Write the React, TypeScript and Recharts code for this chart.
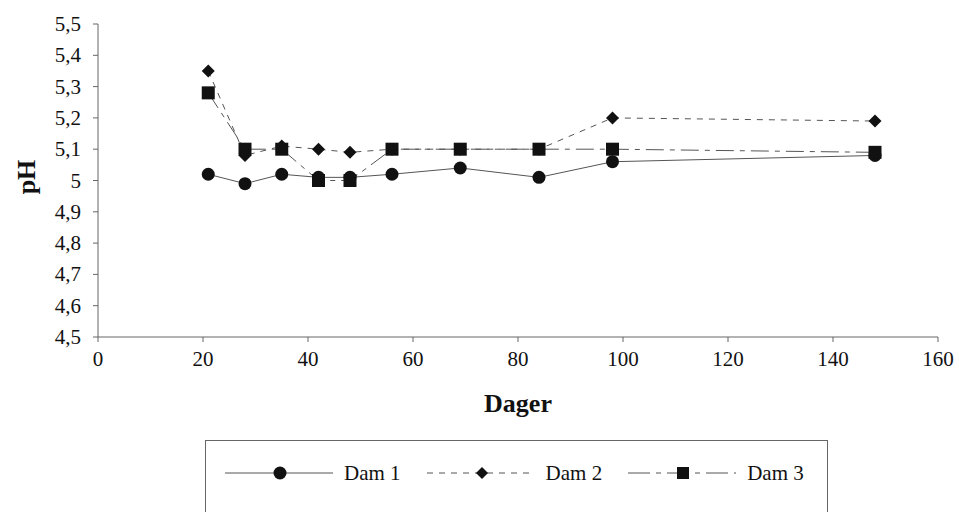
import { LineChart, Line, XAxis, YAxis, Legend, Label } from "recharts";

const days = [21, 28, 35, 42, 48, 56, 69, 84, 98, 148];
const dam1 = [5.02, 4.99, 5.02, 5.01, 5.01, 5.02, 5.04, 5.01, 5.06, 5.08];
const dam2 = [5.35, 5.08, 5.11, 5.1, 5.09, 5.1, 5.1, 5.1, 5.2, 5.19];
const dam3 = [5.28, 5.1, 5.1, 5.0, 5.0, 5.1, 5.1, 5.1, 5.1, 5.09];

const xTicks = [0, 20, 40, 60, 80, 100, 120, 140, 160];
const yTicks = [4.5, 4.6, 4.7, 4.8, 4.9, 5.0, 5.1, 5.2, 5.3, 5.4, 5.5];

const data = days.map((d, i) => ({
  day: d,
  dam1: dam1[i],
  dam2: dam2[i],
  dam3: dam3[i],
}));

const FONT = "'Liberation Serif', 'Times New Roman', serif";
const LINE = "#555";
const INK = "#111";

const fmtY = (v: number) => String(Number(v.toFixed(1))).replace(".", ",");

const XTick = (p: any) => (
  <text
    x={p.x}
    y={p.y + 22}
    textAnchor="middle"
    fontFamily={FONT}
    fontSize={21}
    fill={INK}
  >
    {p.payload.value}
  </text>
);

const YTick = (p: any) => (
  <text
    x={p.x - 10}
    y={p.y}
    textAnchor="end"
    dominantBaseline="central"
    fontFamily={FONT}
    fontSize={21}
    fill={INK}
  >
    {fmtY(p.payload.value)}
  </text>
);

const Circle = (p: any) => (
  <circle key={p.key} cx={p.cx} cy={p.cy} r={6.5} fill={INK} />
);
const Diamond = (p: any) => (
  <path
    key={p.key}
    d={`M${p.cx},${p.cy - 6.5}L${p.cx + 6.5},${p.cy}L${p.cx},${p.cy + 6.5}L${p.cx - 6.5},${p.cy}Z`}
    fill={INK}
  />
);
const Square = (p: any) => (
  <rect key={p.key} x={p.cx - 6.5} y={p.cy - 6.5} width={13} height={13} fill={INK} />
);

const legendItems = [
  { name: "Dam 1", dash: undefined, marker: "circle" },
  { name: "Dam 2", dash: "6 6", marker: "diamond" },
  { name: "Dam 3", dash: "22 6 5 6", marker: "square" },
];

function LegendBox() {
  return (
    <div
      style={{
        border: "1px solid #666",
        width: 623,
        height: 80,
        boxSizing: "border-box",
        display: "flex",
        alignItems: "flex-start",
        paddingTop: 20,
        paddingLeft: 19,
        fontFamily: FONT,
        fontSize: 21,
        lineHeight: "24px",
        color: INK,
      }}
    >
      {legendItems.map((it) => (
        <div
          key={it.name}
          style={{ display: "flex", alignItems: "center", marginRight: 26, height: 24 }}
        >
          <svg width={108} height={20} style={{ display: "block" }}>
            <line x1={0} x2={108} y1={10} y2={10} stroke={LINE} strokeDasharray={it.dash} />
            {it.marker === "circle" && <circle cx={55} cy={10} r={6.5} fill={INK} />}
            {it.marker === "diamond" && <path d="M55,4L61,10L55,16L49,10Z" fill={INK} />}
            {it.marker === "square" && <rect x={49} y={4} width={12} height={12} fill={INK} />}
          </svg>
          <span style={{ marginLeft: 11, whiteSpace: "nowrap" }}>{it.name}</span>
        </div>
      ))}
    </div>
  );
}

export default function App() {
  return (
    <div style={{ position: "absolute", left: 0, top: 0, background: "#fff", fontFamily: FONT }}>
      <LineChart
        width={959}
        height={512}
        data={data}
        margin={{ top: 24, right: 21, bottom: 35, left: 0 }}
      >
        <XAxis
          dataKey="day"
          type="number"
          domain={[0, 160]}
          ticks={xTicks}
          interval={0}
          height={60}
          tickSize={5}
          stroke="#666"
          tick={XTick}
        >
          <Label
            content={(props: any) => {
              const vb = props.viewBox || { x: 98, width: 840 };
              return (
                <text
                  x={vb.x + vb.width / 2}
                  y={403}
                  textAnchor="middle"
                  dominantBaseline="central"
                  fontFamily={FONT}
                  fontSize={26}
                  fontWeight="bold"
                  fill={INK}
                >
                  Dager
                </text>
              );
            }}
          />
        </XAxis>
        <YAxis
          type="number"
          domain={[4.5, 5.5]}
          ticks={yTicks}
          interval={0}
          width={98}
          tickSize={5}
          stroke="#666"
          tick={YTick}
        >
          <Label
            content={() => (
              <text
                x={26}
                y={177}
                transform="rotate(-90 26 177)"
                textAnchor="middle"
                dominantBaseline="central"
                fontFamily={FONT}
                fontSize={26}
                fontWeight="bold"
                fill={INK}
              >
                pH
              </text>
            )}
          />
        </YAxis>
        <Legend
          verticalAlign="bottom"
          content={() => <LegendBox />}
          wrapperStyle={{ position: "absolute", left: 205, top: 440, width: 623, height: 80 }}
        />
        <Line
          dataKey="dam1"
          name="Dam 1"
          stroke={LINE}
          strokeWidth={1}
          dot={Circle}
          activeDot={false}
          isAnimationActive={false}
        />
        <Line
          dataKey="dam2"
          name="Dam 2"
          stroke={LINE}
          strokeWidth={1}
          strokeDasharray="6 6"
          dot={Diamond}
          activeDot={false}
          isAnimationActive={false}
        />
        <Line
          dataKey="dam3"
          name="Dam 3"
          stroke={LINE}
          strokeWidth={1}
          strokeDasharray="18 6 5 6"
          dot={Square}
          activeDot={false}
          isAnimationActive={false}
        />
      </LineChart>
    </div>
  );
}
